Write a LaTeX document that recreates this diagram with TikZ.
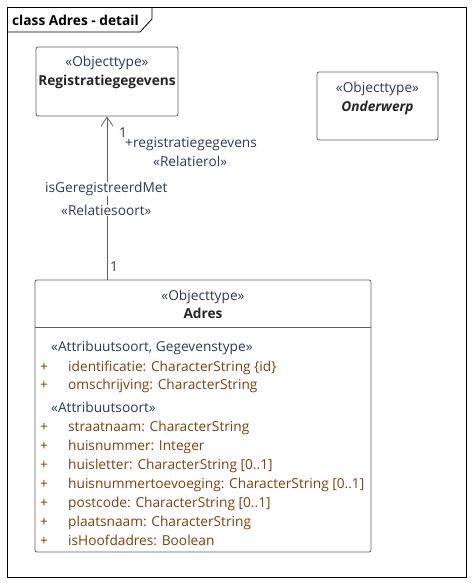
\documentclass[tikz,border=0pt]{standalone}
\usepackage{fontspec}
\setmainfont{Open Sans}
\usepackage{xcolor}
\usepackage{tikz}
\usetikzlibrary{arrows.meta, positioning, calc}
\definecolor{attrbrown}{RGB}{128,64,16}
\definecolor{stereoblue}{RGB}{46,58,92}
\definecolor{boxgray}{RGB}{95,95,95}

\begin{document}
\begin{tikzpicture}[
    x=1pt, y=-1pt,
    every node/.style={font=\fontsize{13.7}{16}\selectfont, inner sep=0pt},
    frame/.style={draw=black, line width=0.8pt},
    classbox/.style={rectangle, draw=boxgray, line width=0.8pt, rounded corners=2pt, fill=white},
    stereo/.style={anchor=base, text=stereoblue},
    cname/.style={anchor=base, font=\fontsize{13.7}{16}\selectfont\bfseries, text=black!85},
    attr/.style={anchor=base west, text=attrbrown},
    rolelbl/.style={anchor=base west, text=stereoblue},
    assoc/.style={draw=boxgray, line width=0.8pt, -{Straight Barb[length=9pt,width=12pt]}}
]
    \useasboundingbox (0,0) rectangle (474,583);
    \fill[white] (0,0) rectangle (474,583);

    % diagram frame with name tab
    \draw[frame] (7,7) rectangle (466,577);
    \draw[frame] (7,32) -- (140,32) -- (152,19) -- (152,7);
    \node[anchor=base west, font=\fontsize{13.7}{16}\selectfont\bfseries] (title) at (12,25.5) {class Adres - detail};

    % classes
    \node[classbox, minimum width=142, minimum height=69] (reg) at (107,81.5) {};
    \node[stereo] (regster) at (107,67) {«Objecttype»};
    \node[cname] (regname) at (107,86) {Registratiegegevens};

    \node[classbox, minimum width=121, minimum height=68] (onderwerp) at (377.5,106) {};
    \node[stereo] (ondster) at (377.5,93) {«Objecttype»};
    \node[cname, font=\fontsize{13.7}{16}\selectfont\bfseries\itshape] (ondname) at (377.5,112) {Onderwerp};

    \node[classbox, minimum width=336, minimum height=272] (adres) at (203,416) {};
    \node[stereo] (adrster) at (203,300.5) {«Objecttype»};
    \node[cname] (adrname) at (203,318.5) {Adres};
    \coordinate (sepy) at (0,327);
    \draw[draw=boxgray, line width=0.8pt] (adres.west |- sepy) -- (adres.east |- sepy);

    % attributes
    \node[rolelbl] (grp1) at (51,351.5) {«Attribuutsoort, Gegevenstype»};
    \node[attr] (v1) at (40,371.5) {+};
    \node[attr] (a1) at (68,371.5) {identificatie: CharacterString \{id\}};
    \node[attr] (v2) at (40,389.5) {+};
    \node[attr] (a2) at (68,389.5) {omschrijving: CharacterString};
    \node[rolelbl] (grp2) at (51,412.5) {«Attribuutsoort»};
    \node[attr] (v3) at (40,431.5) {+};
    \node[attr] (a3) at (68,431.5) {straatnaam: CharacterString};
    \node[attr] (v4) at (40,450.5) {+};
    \node[attr] (a4) at (68,450.5) {huisnummer: Integer};
    \node[attr] (v5) at (40,469.5) {+};
    \node[attr] (a5) at (68,469.5) {huisletter: CharacterString [0..1]};
    \node[attr] (v6) at (40,488.5) {+};
    \node[attr] (a6) at (68,488.5) {huisnummertoevoeging: CharacterString [0..1]};
    \node[attr] (v7) at (40,507.5) {+};
    \node[attr] (a7) at (68,507.5) {postcode: CharacterString [0..1]};
    \node[attr] (v8) at (40,526.5) {+};
    \node[attr] (a8) at (68,526.5) {plaatsnaam: CharacterString};
    \node[attr] (v9) at (40,545.5) {+};
    \node[attr] (a9) at (68,545.5) {isHoofdadres: Boolean};

    % association
    \draw[assoc] (adres.north -| reg.south) -- (reg.south);
    \node[rolelbl] (multtop) at (119,137) {1};
    \node[rolelbl] (role) at (125,147.5) {+registratiegegevens};
    \node[rolelbl] (rolester) at (153,166.5) {«Relatierol»};
    \node[rolelbl, fill=white] (assocname) at (45,192.5) {isGeregistreerdMet};
    \node[rolelbl, fill=white] (assocster) at (61,215.5) {«Relatiesoort»};
    \node[rolelbl] (multbot) at (110,271) {1};
\end{tikzpicture}
\end{document}
